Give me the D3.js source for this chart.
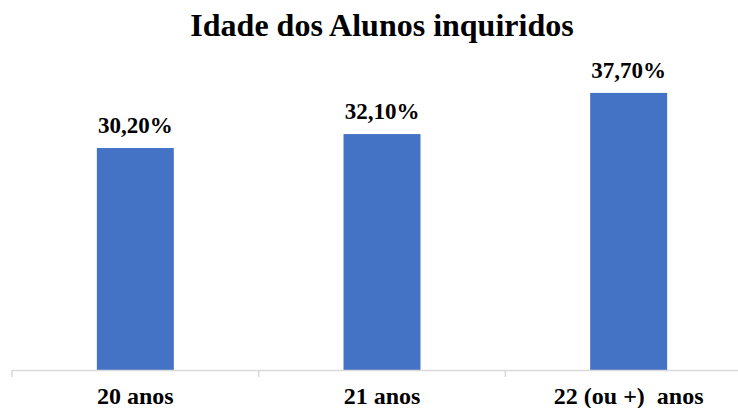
<!DOCTYPE html>
<html>
<head>
<meta charset="utf-8">
<script src="https://cdn.jsdelivr.net/npm/d3@7"></script>
<style>
    body { margin: 0; background: #fff; }
</style>
</head>
<body>
<div id="chart"></div>
<script>
const categories = ["20 anos", "21 anos", "22 (ou +)  anos"];
const values = [30.2, 32.1, 37.7];
const valueLabels = ["30,20%", "32,10%", "37,70%"];
const title = "Idade dos Alunos inquiridos";

const width = 738, height = 408;
const baseY = 370;
const font = "Liberation Serif";

const svg = d3.select("#chart").append("svg")
    .attr("width", width)
    .attr("height", height);

const x = d3.scaleBand()
    .domain(categories)
    .range([12, 752])
    .paddingInner(0.688)
    .paddingOuter(0.344);

const y = d3.scaleLinear()
    .domain([0, 40])
    .range([baseY, baseY - 294]);

// title
svg.append("text")
    .attr("x", 382)
    .attr("y", 36)
    .attr("text-anchor", "middle")
    .attr("font-family", font)
    .attr("font-weight", "bold")
    .attr("font-size", 32)
    .text(title);

// bars
svg.selectAll("rect.bar")
    .data(values)
    .enter().append("rect")
    .attr("class", "bar")
    .attr("x", (d, i) => x(categories[i]))
    .attr("y", d => y(d))
    .attr("width", x.bandwidth())
    .attr("height", d => baseY - y(d))
    .attr("fill", "#4472C4");

// value labels
svg.selectAll("text.val")
    .data(values)
    .enter().append("text")
    .attr("class", "val")
    .attr("x", (d, i) => x(categories[i]) + x.bandwidth() / 2)
    .attr("y", d => y(d) - 15)
    .attr("text-anchor", "middle")
    .attr("font-family", font)
    .attr("font-weight", "bold")
    .attr("font-size", 23)
    .text((d, i) => valueLabels[i]);

// axis line with boundary ticks
const step = x.step();
const bounds = d3.range(categories.length + 1).map(i => 12 + i * step);

svg.append("line")
    .attr("x1", 12).attr("x2", width)
    .attr("y1", baseY + 0.5).attr("y2", baseY + 0.5)
    .attr("stroke", "#d9d9d9")
    .attr("stroke-width", 1.5);

svg.selectAll("line.tick")
    .data(bounds)
    .enter().append("line")
    .attr("class", "tick")
    .attr("x1", d => d).attr("x2", d => d)
    .attr("y1", baseY).attr("y2", baseY + 7)
    .attr("stroke", "#d9d9d9")
    .attr("stroke-width", 1.5);

// category labels
svg.selectAll("text.cat")
    .data(categories)
    .enter().append("text")
    .attr("class", "cat")
    .attr("x", d => x(d) + x.bandwidth() / 2)
    .attr("y", 404)
    .attr("text-anchor", "middle")
    .attr("font-family", font)
    .attr("font-weight", "bold")
    .attr("font-size", 24)
    .style("white-space", "pre")
    .text(d => d);
</script>
</body>
</html>
